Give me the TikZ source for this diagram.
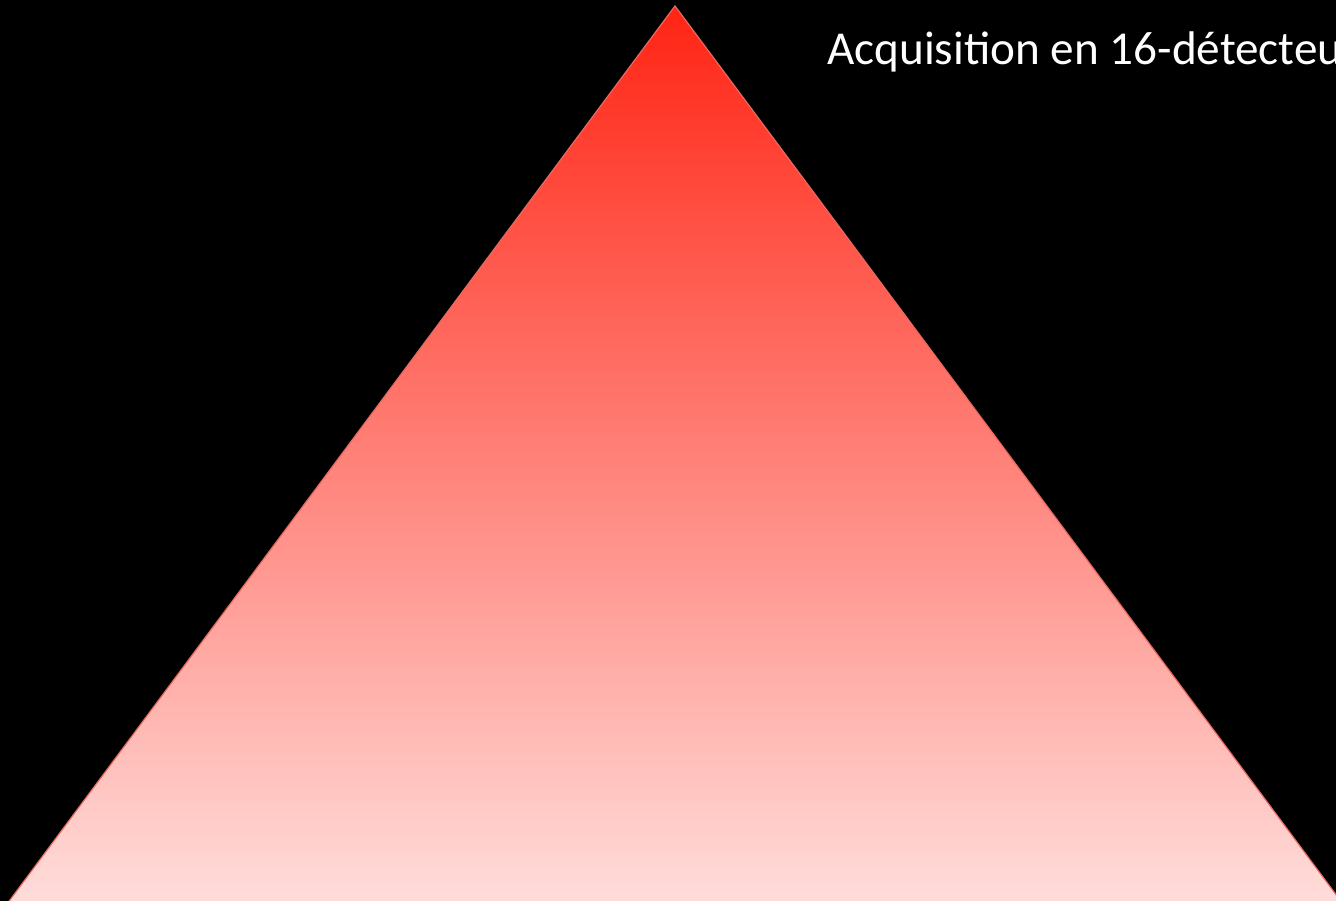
\documentclass[tikz,border=0pt]{standalone}
\usepackage{fontspec}
\setmainfont{Carlito}
\begin{document}
\begin{tikzpicture}[x=1pt,y=-1pt,
  pyr/.style={draw={rgb,255:red,232;green,105;blue,95},line width=1.2pt,
    top color={rgb,255:red,255;green,36;blue,20},
    middle color={rgb,255:red,255;green,128;blue,122},
    bottom color={rgb,255:red,255;green,222;blue,220}},
  lbl/.style={text=white,font=\fontsize{47.2}{56}\selectfont,inner sep=0pt,anchor=base west}]
\useasboundingbox (0,0) rectangle (1336,901);
\clip (0,0) rectangle (1336,901);
\fill[black] (0,0) rectangle (1336,901);
\coordinate (apex) at (675,6);
\coordinate (bl) at (4,908);
\coordinate (br) at (1346,908);
\path[pyr] (apex) -- (br) -- (bl) -- cycle;
\node[lbl] (title) at (827,65) {Acquisition en 16-détecteu};
\end{tikzpicture}
\end{document}
